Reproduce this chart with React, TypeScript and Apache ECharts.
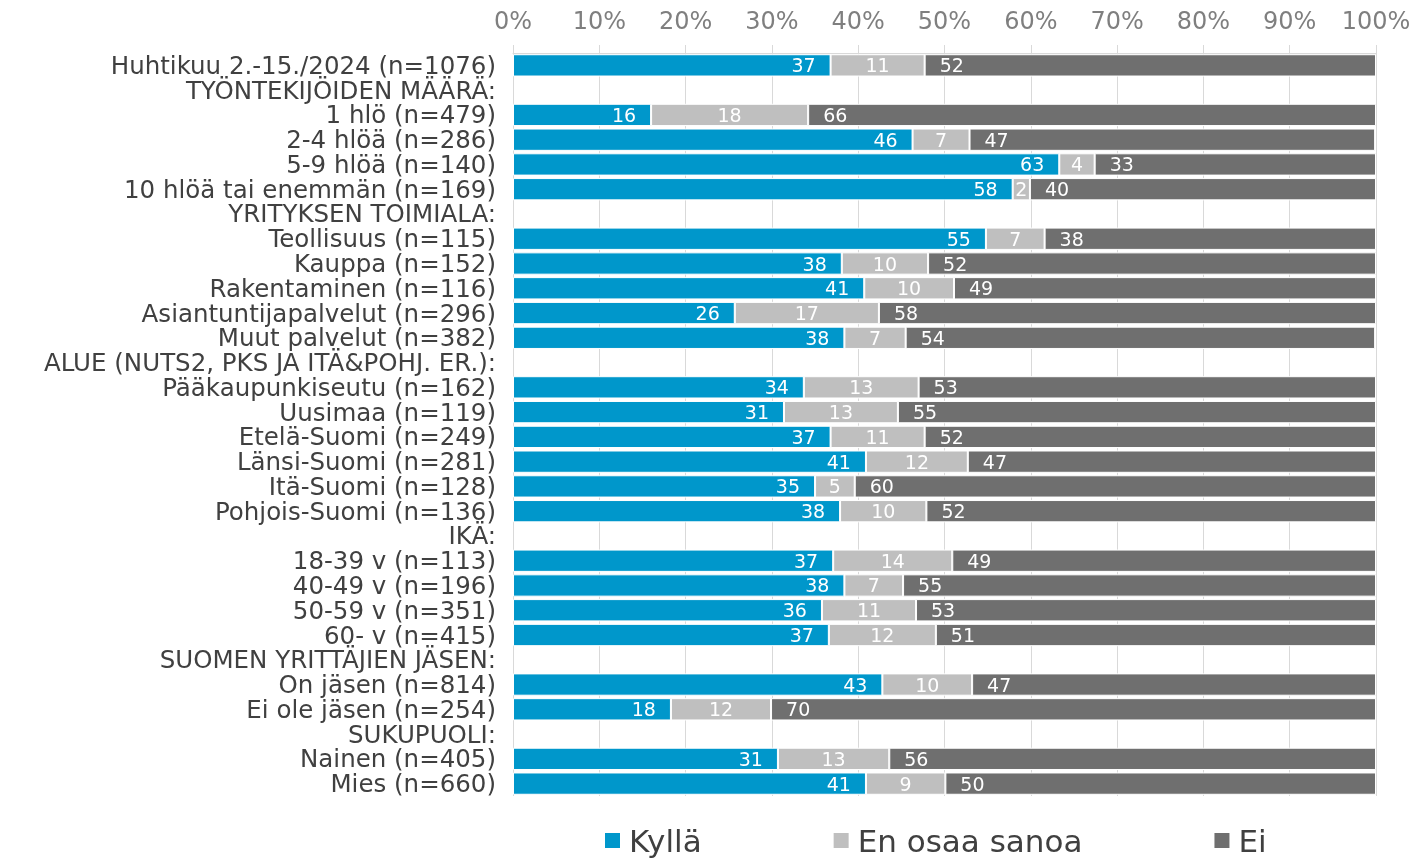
import React, { useEffect, useRef } from "react";
import * as echarts from "echarts";

const categories = [
  "Huhtikuu 2.-15./2024 (n=1076)",
  "TYÖNTEKIJÖIDEN MÄÄRÄ:",
  "1 hlö (n=479)",
  "2-4 hlöä (n=286)",
  "5-9 hlöä (n=140)",
  "10 hlöä tai enemmän (n=169)",
  "YRITYKSEN TOIMIALA:",
  "Teollisuus (n=115)",
  "Kauppa (n=152)",
  "Rakentaminen (n=116)",
  "Asiantuntijapalvelut (n=296)",
  "Muut palvelut (n=382)",
  "ALUE (NUTS2, PKS JA ITÄ&POHJ. ER.):",
  "Pääkaupunkiseutu (n=162)",
  "Uusimaa (n=119)",
  "Etelä-Suomi (n=249)",
  "Länsi-Suomi (n=281)",
  "Itä-Suomi (n=128)",
  "Pohjois-Suomi (n=136)",
  "IKÄ:",
  "18-39 v (n=113)",
  "40-49 v (n=196)",
  "50-59 v (n=351)",
  "60- v (n=415)",
  "SUOMEN YRITTÄJIEN JÄSEN:",
  "On jäsen (n=814)",
  "Ei ole jäsen (n=254)",
  "SUKUPUOLI:",
  "Nainen (n=405)",
  "Mies (n=660)",
];

const kylla = [
  36.8, null, 16.0, 46.3, 63.3, 57.9, null, 54.8, 38.1, 40.7, 25.7, 38.4, null,
  33.7, 31.4, 36.8, 40.9, 35.0, 37.9, null, 37.1, 38.4, 35.8, 36.6, null, 42.8,
  18.3, null, 30.7, 40.9,
];
const enOsaa = [
  10.9, null, 18.2, 6.6, 4.1, 2.0, null, 6.8, 10.0, 10.4, 16.7, 7.1, null,
  13.3, 13.2, 10.9, 11.8, 4.6, 10.0, null, 13.8, 6.8, 10.9, 12.4, null, 10.4,
  11.6, null, 12.9, 9.2,
];
const ei = [
  52.3, null, 65.8, 47.0, 32.6, 40.1, null, 38.4, 51.9, 48.9, 57.6, 54.4, null,
  53.0, 55.4, 52.3, 47.3, 60.4, 52.1, null, 49.1, 54.8, 53.3, 51.0, null, 46.8,
  70.1, null, 56.4, 49.9,
];

const seriesNames = ["Kyllä", "En osaa sanoa", "Ei"];
const colors = ["#0097CB", "#BFBFBF", "#6F6F6F"];
const FONT = "DejaVu Sans";

export default function App() {
  const ref = useRef<HTMLDivElement>(null);
  useEffect(() => {
    if (!ref.current) return;
    const chart = echarts.init(ref.current, null, { renderer: "svg" });
    const fmt = (p: any) =>
      p.value == null ? "" : String(Math.round(Number(p.value)));
    const labelBase = {
      show: true,
      color: "#ffffff",
      fontSize: 19,
      fontFamily: FONT,
      formatter: fmt,
    };
    const datasets = [kylla, enOsaa, ei];
    const positions = ["insideRight", "inside", "insideLeft"];
    chart.setOption({
      animation: false,
      textStyle: { fontFamily: FONT },
      grid: { left: 513, right: 38, top: 53, bottom: 63, containLabel: false },
      legend: {
        left: 603,
        top: 825,
        padding: 0,
        itemWidth: 17,
        itemHeight: 17,
        itemGap: 130,
        icon: "rect",
        textStyle: {
          fontSize: 31,
          lineHeight: 31,
          color: "#404040",
          fontFamily: FONT,
          padding: [0, 0, 0, 3],
        },
        data: seriesNames,
      },
      xAxis: {
        type: "value",
        position: "top",
        min: 0,
        max: 100,
        interval: 10,
        axisLabel: {
          formatter: "{value}%",
          fontSize: 24,
          color: "#7F7F7F",
          fontFamily: FONT,
          margin: 20,
        },
        axisLine: { show: true, lineStyle: { color: "#D9D9D9", width: 1 } },
        axisTick: { show: true, length: 8, lineStyle: { color: "#D9D9D9" } },
        splitLine: { show: true, lineStyle: { color: "#D9D9D9", width: 1 } },
      },
      yAxis: {
        type: "category",
        inverse: true,
        data: categories,
        axisLine: { show: false },
        axisTick: { show: false },
        axisLabel: {
          fontSize: 24.5,
          lineHeight: 24,
          color: "#404040",
          fontFamily: FONT,
          margin: 17,
          interval: 0,
        },
      },
      series: datasets.map((d, i) => ({
        name: seriesNames[i],
        type: "bar",
        stack: "total",
        barCategoryGap: "10%",
        data: d,
        itemStyle: { color: colors[i], borderColor: "#ffffff", borderWidth: 1 },
        label: {
          ...labelBase,
          position: positions[i],
          distance: i === 1 ? 0 : 15,
        },
      })),
    });
    return () => chart.dispose();
  }, []);
  return (
    <div
      ref={ref}
      style={{ position: "fixed", left: 0, top: 0, width: 1414, height: 859 }}
    />
  );
}
